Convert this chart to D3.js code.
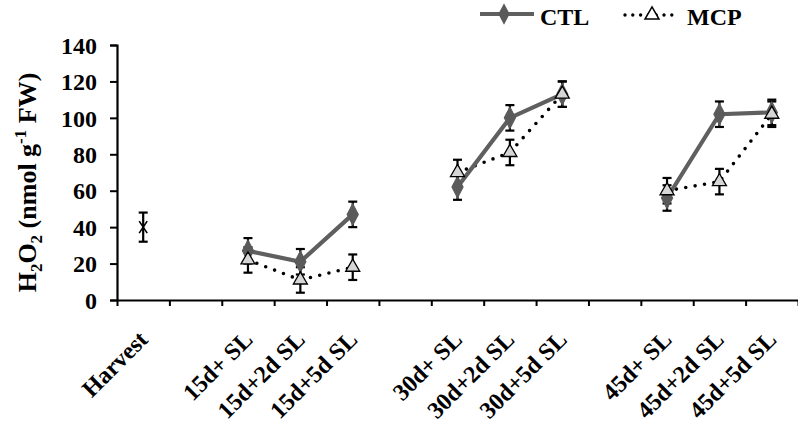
<!DOCTYPE html>
<html><head><meta charset="utf-8">
<script src="https://cdn.jsdelivr.net/npm/d3@7"></script>
<style>body{margin:0;background:#fff;}</style></head>
<body><svg id="c" width="798" height="425"></svg>
<script>
// ---- data ----
const groups = [
  ["Harvest"],
  ["15d+ SL","15d+2d SL","15d+5d SL"],
  ["30d+ SL","30d+2d SL","30d+5d SL"],
  ["45d+ SL","45d+2d SL","45d+5d SL"]
];
const harvestValue = [40];
const harvestErr = [8];
const storageCategories = ["15d+ SL","15d+2d SL","15d+5d SL","30d+ SL","30d+2d SL","30d+5d SL","45d+ SL","45d+2d SL","45d+5d SL"];
const ctlValues = [27,21,47,62,100,113,56,102,103];
const ctlErr    = [7,7,7,7,7,7,7,7,7];
const mcpValues = [22,11,18,70,81,113,60,65,102];
const mcpErr    = [7,7,7,7,7,7,7,7,7];
const yTicks = [0,20,40,60,80,100,120,140];

(function(){
const FONT = '"Liberation Serif"';
const svg = d3.select("#c");
const mLeft = 117, mRight = 798, mTop = 45, mBottom = 300;

const slots = [];
groups.forEach((g,i)=>{ if(i>0) slots.push("__gap"+i); g.forEach(c=>slots.push(c)); });
const x = d3.scaleBand().domain(slots).range([mLeft,mRight]);
const xi = d3.scaleLinear().domain([0,slots.length]).range([mLeft,mRight]);
const y = d3.scaleLinear().domain([0,140]).range([mBottom,mTop]);
const cx = c => x(c)+x.bandwidth()/2;
const styleText = sel => sel.style("font-family",FONT).style("font-weight","bold").style("fill","#000");

// axes
const yAxis = svg.append("g").attr("transform",`translate(${mLeft},0)`)
  .call(d3.axisLeft(y).tickValues(yTicks).tickSize(7).tickPadding(13));
yAxis.attr("font-family",null).attr("font-size",null);
yAxis.select(".domain").attr("stroke","#000").attr("stroke-width",2.2);
yAxis.selectAll(".tick line").attr("stroke","#000").attr("stroke-width",2);
yAxis.selectAll("text").call(styleText).style("font-size","24px").attr("dy","0.34em");

const xAxis = svg.append("g").attr("transform",`translate(0,${mBottom})`)
  .call(d3.axisBottom(xi).tickValues(d3.range(slots.length+1)).tickFormat("").tickSize(6).tickSizeOuter(0));
xAxis.select(".domain").attr("stroke","#000").attr("stroke-width",2.2);
xAxis.selectAll(".tick line").attr("stroke","#000").attr("stroke-width",2);

// x labels
slots.filter(s=>!s.startsWith("__gap")).forEach(s=>{
  const px = cx(s)+6, py = 341;
  svg.append("text").attr("transform",`translate(${px},${py}) rotate(-45)`)
    .attr("text-anchor","end").call(styleText).style("font-size","24px").text(s);
});

// y label
const yl = svg.append("text").attr("transform",`translate(36,${(mTop+mBottom)/2+10}) rotate(-90)`)
  .attr("text-anchor","middle").call(styleText).style("font-size","26px");
yl.append("tspan").text("H");
yl.append("tspan").text("2").attr("dy","6").style("font-size","17px");
yl.append("tspan").text("O").attr("dy","-6");
yl.append("tspan").text("2").attr("dy","6").style("font-size","17px");
yl.append("tspan").text(" (nmol g").attr("dy","-6");
yl.append("tspan").text("-1").attr("dy","-10").style("font-size","17px");
yl.append("tspan").text(" FW)").attr("dy","10");

function errBar(px, v, e){
  const g = svg.append("g").attr("stroke","#000").attr("stroke-width",2.2);
  g.append("line").attr("x1",px).attr("x2",px).attr("y1",y(v+e)).attr("y2",y(v-e));
  g.append("line").attr("x1",px-4.5).attr("x2",px+4.5).attr("y1",y(v+e)).attr("y2",y(v+e));
  g.append("line").attr("x1",px-4.5).attr("x2",px+4.5).attr("y1",y(v-e)).attr("y2",y(v-e));
}

harvestValue.forEach((v,i)=>{
  const px = cx("Harvest");
  errBar(px, v, harvestErr[i]);
  const py = y(v);
  svg.append("path").attr("d",`M${px-4},${py-6}L${px+4},${py+6}M${px+4},${py-6}L${px-4},${py+6}`)
    .attr("stroke","#000").attr("stroke-width",1.6).attr("fill","none");
});

const diamond = d3.symbol().type(d3.symbolDiamond).size(110);
const tri = d3.symbol().type(d3.symbolTriangle).size(85);

storageCategories.forEach((c,i)=>{ errBar(cx(c), ctlValues[i], ctlErr[i]); errBar(cx(c), mcpValues[i], mcpErr[i]); });

const line = d3.line().x(d=>cx(d.c)).y(d=>y(d.v));
groups.slice(1).forEach(g=>{
  const ctlPts = g.map(c=>({c, v: ctlValues[storageCategories.indexOf(c)]}));
  const mcpPts = g.map(c=>({c, v: mcpValues[storageCategories.indexOf(c)]}));
  svg.append("path").attr("d",line(mcpPts)).attr("fill","none").attr("stroke","#000")
    .attr("stroke-width",3.6).attr("stroke-linecap","round").attr("stroke-dasharray","0,9.5");
  svg.append("path").attr("d",line(ctlPts)).attr("fill","none").attr("stroke","#5f5f5f")
    .attr("stroke-width",4.2);
});

storageCategories.forEach((c,i)=>{
  svg.append("path").attr("d",diamond).attr("transform",`translate(${cx(c)},${y(ctlValues[i])}) scale(1,1.1)`)
    .attr("fill","#5a5a5a").attr("stroke","#5a5a5a").attr("stroke-width",1);
});
storageCategories.forEach((c,i)=>{
  svg.append("path").attr("d",tri).attr("transform",`translate(${cx(c)},${y(mcpValues[i])})`)
    .attr("fill","#d6d6d6").attr("stroke","#000").attr("stroke-width",1.3);
});

// legend
const lg = svg.append("g");
lg.append("line").attr("x1",480).attr("x2",534).attr("y1",14).attr("y2",14).attr("stroke","#5f5f5f").attr("stroke-width",4.2);
lg.append("path").attr("d",diamond).attr("transform","translate(504,14) scale(1,1.1)").attr("fill","#5a5a5a");
lg.append("text").attr("x",540).attr("y",25).call(styleText).style("font-size","24px").text("CTL");
lg.append("line").attr("x1",625).attr("x2",678).attr("y1",15).attr("y2",15).attr("stroke","#000")
  .attr("stroke-width",3.4).attr("stroke-linecap","round").attr("stroke-dasharray","0,7.8");
lg.append("path").attr("d",tri).attr("transform","translate(652,15)").attr("fill","#fff").attr("stroke","#000").attr("stroke-width",1.5);
lg.append("text").attr("x",687).attr("y",25).call(styleText).style("font-size","24px").text("MCP");
})();
</script></body></html>
